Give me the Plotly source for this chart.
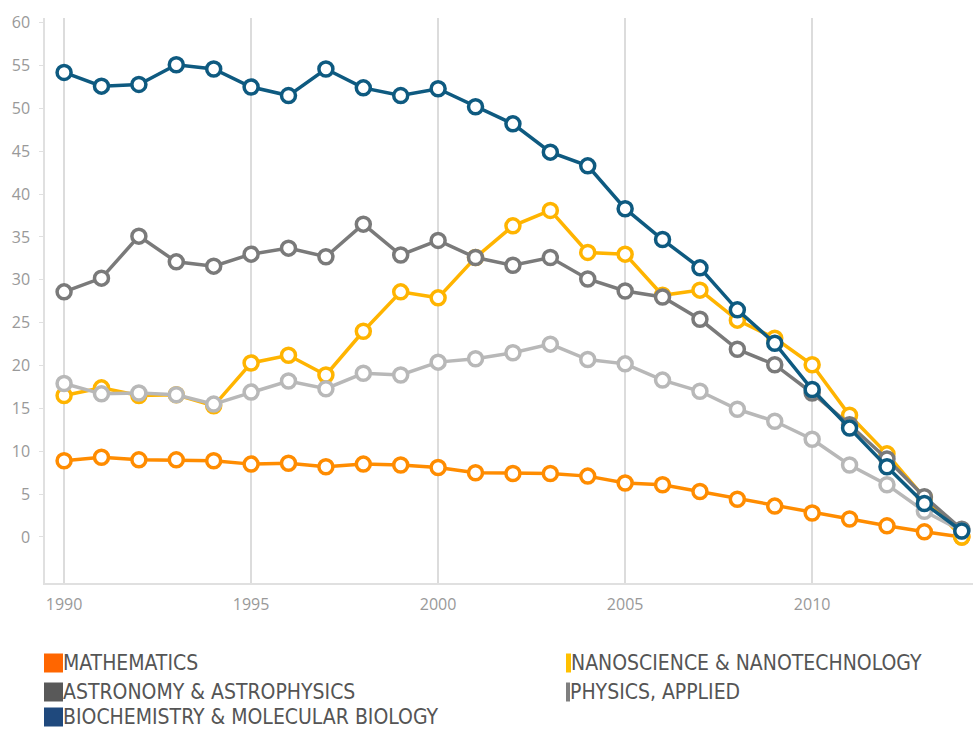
import plotly.graph_objects as go

years = list(range(1990, 2015))

mathematics = [8.9, 9.3, 9.0, 9.0, 8.9, 8.5, 8.6, 8.2, 8.5, 8.4, 8.1, 7.5, 7.4, 7.4, 7.1,
               6.3, 6.1, 5.3, 4.4, 3.6, 2.8, 2.1, 1.3, 0.6, 0.0]
nanoscience = [16.5, 17.4, 16.5, 16.6, 15.3, 20.3, 21.2, 18.9, 24.0, 28.6, 27.9, 32.6, 36.3, 38.1, 33.2,
               33.0, 28.2, 28.8, 25.3, 23.2, 20.1, 14.2, 9.7, 4.6, 0.0]
astronomy = [28.6, 30.2, 35.1, 32.1, 31.6, 33.0, 33.7, 32.7, 36.5, 32.9, 34.6, 32.6, 31.7, 32.6, 30.1,
             28.7, 28.0, 25.4, 21.9, 20.1, 16.8, 13.1, 9.1, 4.7, 0.9]
physics_applied = [17.9, 16.7, 16.8, 16.6, 15.5, 16.9, 18.2, 17.3, 19.1, 18.9, 20.4, 20.8, 21.5, 22.5, 20.7,
                   20.2, 18.3, 17.0, 14.9, 13.5, 11.4, 8.4, 6.1, 3.0, 0.7]
biochemistry = [54.2, 52.6, 52.8, 55.1, 54.6, 52.5, 51.5, 54.6, 52.4, 51.5, 52.3, 50.2, 48.2, 44.9, 43.3,
                38.3, 34.7, 31.4, 26.5, 22.6, 17.2, 12.7, 8.2, 3.9, 0.7]

series_names = ["MATHEMATICS", "NANOSCIENCE & NANOTECHNOLOGY", "ASTRONOMY & ASTROPHYSICS",
                "PHYSICS, APPLIED", "BIOCHEMISTRY & MOLECULAR BIOLOGY"]
series_values = [mathematics, nanoscience, astronomy, physics_applied, biochemistry]
line_colors = ["#FF8C00", "#FFB400", "#7A7A7A", "#B8B8B8", "#0E5A80"]
legend_colors = ["#FF6600", "#FFC000", "#595959", "#7F7F7F", "#1F497D"]

x_ticks = [1990, 1995, 2000, 2005, 2010]
y_ticks = list(range(0, 61, 5))

fig = go.Figure()
for name, vals, col in zip(series_names, series_values, line_colors):
    fig.add_trace(go.Scatter(
        x=years, y=vals, mode="lines+markers", name=name,
        line=dict(color=col, width=3.5),
        marker=dict(symbol="circle", size=14, color="white", line=dict(color=col, width=3.5)),
        showlegend=False, cliponaxis=False,
    ))

fig.update_layout(
    width=973, height=731,
    margin=dict(l=45, r=0, t=18, b=148),
    paper_bgcolor="white", plot_bgcolor="white",
    font=dict(family="Open Sans, sans-serif", color="#999999"),
    xaxis=dict(
        range=[1989.49, 2014.3], tickvals=x_ticks, ticktext=[str(v) for v in x_ticks],
        showgrid=True, gridcolor="#DCDCDC", gridwidth=1.5,
        showline=True, linecolor="#E0E0E0", linewidth=2,
        ticks="", tickfont=dict(size=16, color="#999999"), ticklabelstandoff=6,
        zeroline=False,
    ),
    yaxis=dict(
        range=[-5.37, 60.55], tickvals=y_ticks,
        showgrid=False, zeroline=False,
        showline=True, linecolor="#E0E0E0", linewidth=1.5,
        ticks="outside", ticklen=4, tickcolor="#E0E0E0", tickwidth=1,
        tickfont=dict(size=16, color="#999999"), ticklabelstandoff=6,
    ),
)

# Custom legend (squares + labels) below the chart
legend_pos = [(44, 663, 19), (566, 663, 5), (44, 692, 19), (566, 692, 4), (44, 717, 19)]
for name, col, (px, py, w) in zip(series_names, legend_colors, legend_pos):
    fig.add_shape(type="rect", xref="paper", yref="paper",
                  x0=(px - 45) / 928, x1=(px - 45 + w) / 928,
                  y0=(583 - py - 9.5) / 565, y1=(583 - py + 9.5) / 565,
                  fillcolor=col, line=dict(width=0))
    fig.add_annotation(xref="paper", yref="paper", x=(px - 45 + w) / 928, y=(583 - py) / 565,
                       text=name, showarrow=False, xanchor="left", yanchor="middle",
                       xshift=-1, borderpad=0,
                       font=dict(family="DejaVu Sans Condensed, Liberation Sans Narrow, sans-serif",
                                 size=21, color="#555555"))

fig.write_html("out.html", config={"displayModeBar": False},
               post_script="document.body.style.margin='0';")
